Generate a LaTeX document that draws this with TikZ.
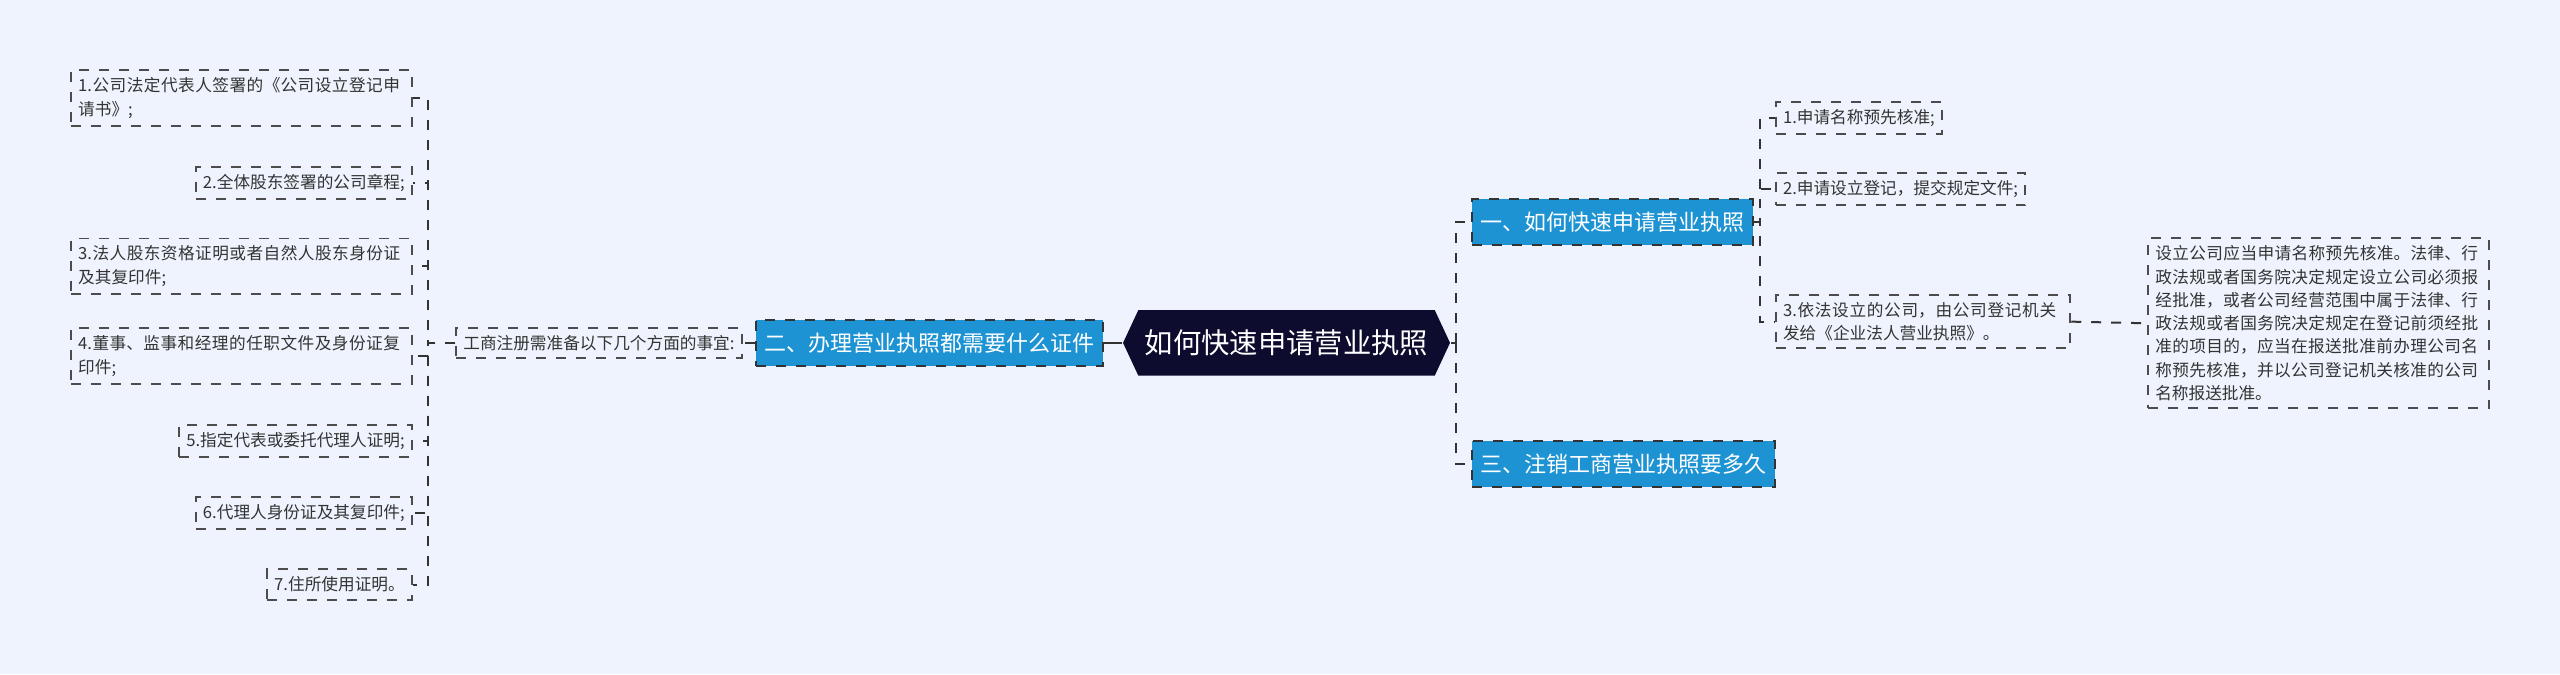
\documentclass[tikz,border=0pt]{standalone}
\usepackage{fontspec}
\setmainfont{Noto Sans CJK SC}
\XeTeXlinebreaklocale "zh"
\XeTeXlinebreakskip=0pt plus 1pt
\usetikzlibrary{shapes.symbols}
\definecolor{bgcol}{HTML}{EEF3FD}
\definecolor{topicblue}{HTML}{1E93D3}
\definecolor{rootcol}{HTML}{0D0B2E}
\tikzset{every picture/.style={line width=0.6pt}}
\tikzset{
  leaf/.style={draw=black!70,dashed,fill=bgcol,font=\fontsize{5}{7}\selectfont,inner sep=2.2pt,align=left,text=black!80},
  topic/.style={draw=black!80,dashed,fill=topicblue,text=white,font=\fontsize{6.6}{8}\selectfont,inner sep=2.5pt,minimum height=13.7pt},
  link/.style={dashed,black!80}
}
\begin{document}
\begin{tikzpicture}[x=0.49pt,y=0.49pt,yscale=-1]
\useasboundingbox[fill=bgcol] (0,0) rectangle (1568,413);

% Root
\node[fill=rootcol,text=white,shape=signal,signal to=east and west,signal from=nowhere,signal pointer angle=130,font=\fontsize{8.5}{10}\selectfont,minimum width=92pt,minimum height=19.6pt,inner sep=2pt] (root) at (788,210) {如何快速申请营业执照};

% Topics
\node[topic,anchor=west] (t1) at (901,136) {一、如何快速申请营业执照};
\node[topic,anchor=west] (t3) at (901,284) {三、注销工商营业执照要多久};
\node[topic,anchor=east] (t2) at (676,210) {二、办理营业执照都需要什么证件};

% Right leaves
\node[leaf,anchor=west] (r1) at (1087,72) {1.申请名称预先核准;};
\node[leaf,anchor=west] (r2) at (1087,116) {2.申请设立登记，提交规定文件;};
\node[leaf,anchor=west,text width=84pt] (r3) at (1087,197) {3.依法设立的公司，由公司登记机关发给《企业法人营业执照》。};
\node[leaf,anchor=west,text width=98pt] (r4) at (1315,198) {设立公司应当申请名称预先核准。法律、行政法规或者国务院决定规定设立公司必须报经批准，或者公司经营范围中属于法律、行政法规或者国务院决定规定在登记前须经批准的项目的，应当在报送批准前办理公司名称预先核准，并以公司登记机关核准的公司名称报送批准。};

% Left side
\node[leaf,anchor=east] (mid) at (455,210) {工商注册需准备以下几个方面的事宜:};
\node[leaf,anchor=east,text width=98pt] (l1) at (253,60) {1.公司法定代表人签署的《公司设立登记申请书》;};
\node[leaf,anchor=east] (l2) at (253,112) {2.全体股东签署的公司章程;};
\node[leaf,anchor=east,text width=98pt] (l3) at (253,163) {3.法人股东资格证明或者自然人股东身份证及其复印件;};
\node[leaf,anchor=east,text width=98pt] (l4) at (253,218) {4.董事、监事和经理的任职文件及身份证复印件;};
\node[leaf,anchor=east] (l5) at (253,270) {5.指定代表或委托代理人证明;};
\node[leaf,anchor=east] (l6) at (253,314) {6.代理人身份证及其复印件;};
\node[leaf,anchor=east] (l7) at (253,358) {7.住所使用证明。};

% Connections
\draw[black!80] (root.east) -- (892,210);
\draw[black!80] (t2.east) -- (root.west);
\foreach \t in {t1,t3} \draw[link] (892,210) |- (\t.west);
\foreach \r in {r1,r2,r3} \draw[link] (t1.east) -- (1078,136) |- (\r.west);
\draw[link] (r3.east) -- (r4.west);
\draw[link] (t2.west) -- (mid.east);
\foreach \l in {l1,l2,l3,l4,l5,l6,l7} \draw[link] (mid.west) -- (262,210) |- (\l.east);
\end{tikzpicture}
\end{document}
